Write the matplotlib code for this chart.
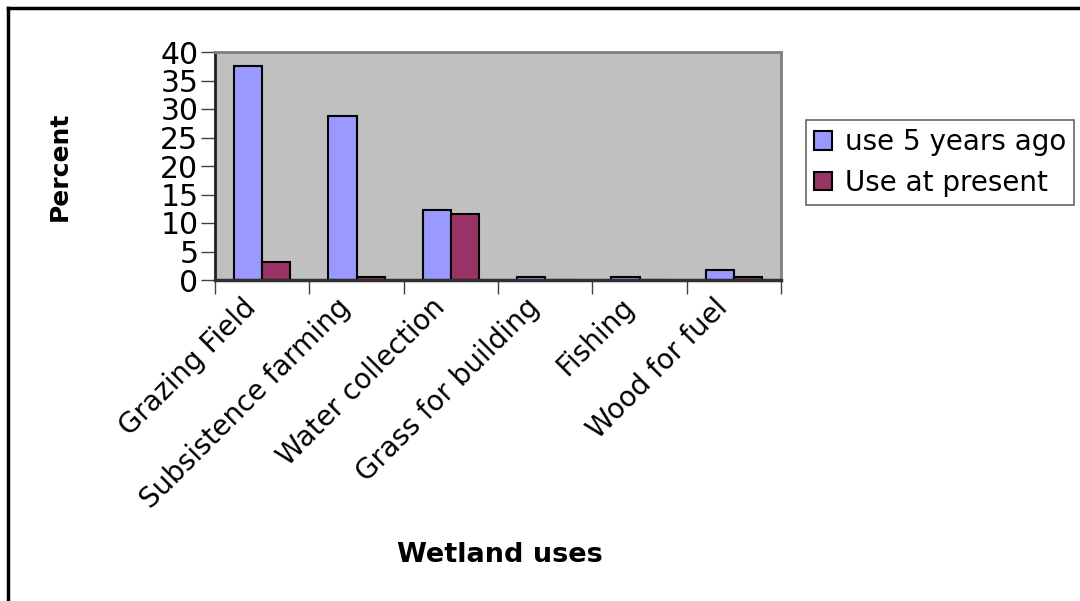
import matplotlib
matplotlib.use("Agg")
import matplotlib.pyplot as plt
from matplotlib.lines import Line2D
from matplotlib.transforms import ScaledTranslation
import numpy as np

plt.rcParams['font.family'] = ['DejaVu Sans']

categories = ["Grazing Field", "Subsistence farming", "Water collection",
              "Grass for building", "Fishing", "Wood for fuel"]
use_5_years_ago = [37.6, 28.8, 12.2, 0.6, 0.6, 1.7]
use_at_present = [3.1, 0.6, 11.6, 0.0, 0.0, 0.6]
series_names = ["use 5 years ago", "Use at present"]
yticks = [0, 5, 10, 15, 20, 25, 30, 35, 40]

W, H = 1080, 601
fig = plt.figure(figsize=(W / 100, H / 100), dpi=100)

# outer frame (top and left lines)
fig.add_artist(Line2D([8 / W, 1.0], [1 - 8 / H, 1 - 8 / H], color='black', lw=2.5,
                      transform=fig.transFigure))
fig.add_artist(Line2D([8 / W, 8 / W], [0.0, 1 - 8 / H], color='black', lw=2.5,
                      transform=fig.transFigure))

left, right, top, bottom = 215, 781, 52, 280
ax = fig.add_axes([left / W, 1 - bottom / H, (right - left) / W, (bottom - top) / H])
ax.set_facecolor('#C0C0C0')

x = np.arange(len(categories))
bw = 0.3
ax.bar(x - bw / 2, use_5_years_ago, width=bw, color='#9999FF', edgecolor='black',
       linewidth=1.5, label=series_names[0], zorder=2)
ax.bar(x + bw / 2, use_at_present, width=bw, color='#993366', edgecolor='black',
       linewidth=1.5, label=series_names[1], zorder=2)

ax.set_xlim(-0.5, len(categories) - 0.5)
ax.set_ylim(0, 40)
ax.set_yticks(yticks)
ax.set_yticklabels([str(v) for v in yticks], fontsize=21.5)

ax.set_xticks(np.arange(len(categories) + 1) - 0.5)
ax.set_xticklabels([])
ax.tick_params(axis='x', which='major', length=10, width=1, color='#404040')
ax.tick_params(axis='y', length=10, width=1, color='#404040', pad=2)

# rotated category labels, anchored below each category centre
offset = ScaledTranslation(-20 / 100, -13 / 100, fig.dpi_scale_trans)
for xi, cat in zip(x, categories):
    ax.text(xi, 0, cat, transform=ax.get_xaxis_transform() + offset,
            rotation=45, ha='right', va='top', rotation_mode='anchor',
            fontsize=20, clip_on=False)

for s in ['top', 'right']:
    ax.spines[s].set_color('#808080')
    ax.spines[s].set_linewidth(2)
ax.spines['left'].set_color('#202020')
ax.spines['left'].set_linewidth(2)
ax.spines['bottom'].set_color('#303030')
ax.spines['bottom'].set_linewidth(2.5)

fig.text(60 / W, 1 - 166 / H, "Percent", rotation=90, fontsize=18, fontweight='bold',
         ha='center', va='center')
fig.text(500 / W, 1 - 555 / H, "Wetland uses", fontsize=19.5, fontweight='bold',
         ha='center', va='center')

leg = fig.legend(loc='upper left', bbox_to_anchor=(806 / W, 1 - 120 / H),
                 bbox_transform=fig.transFigure, fontsize=20, frameon=True,
                 fancybox=False, handlelength=0.65, handleheight=0.65,
                 handletextpad=0.45, borderpad=0.3, labelspacing=0.45,
                 borderaxespad=0)
leg.get_frame().set_edgecolor('#404040')
leg.get_frame().set_linewidth(1.2)

fig.savefig("out.png", dpi=100)
